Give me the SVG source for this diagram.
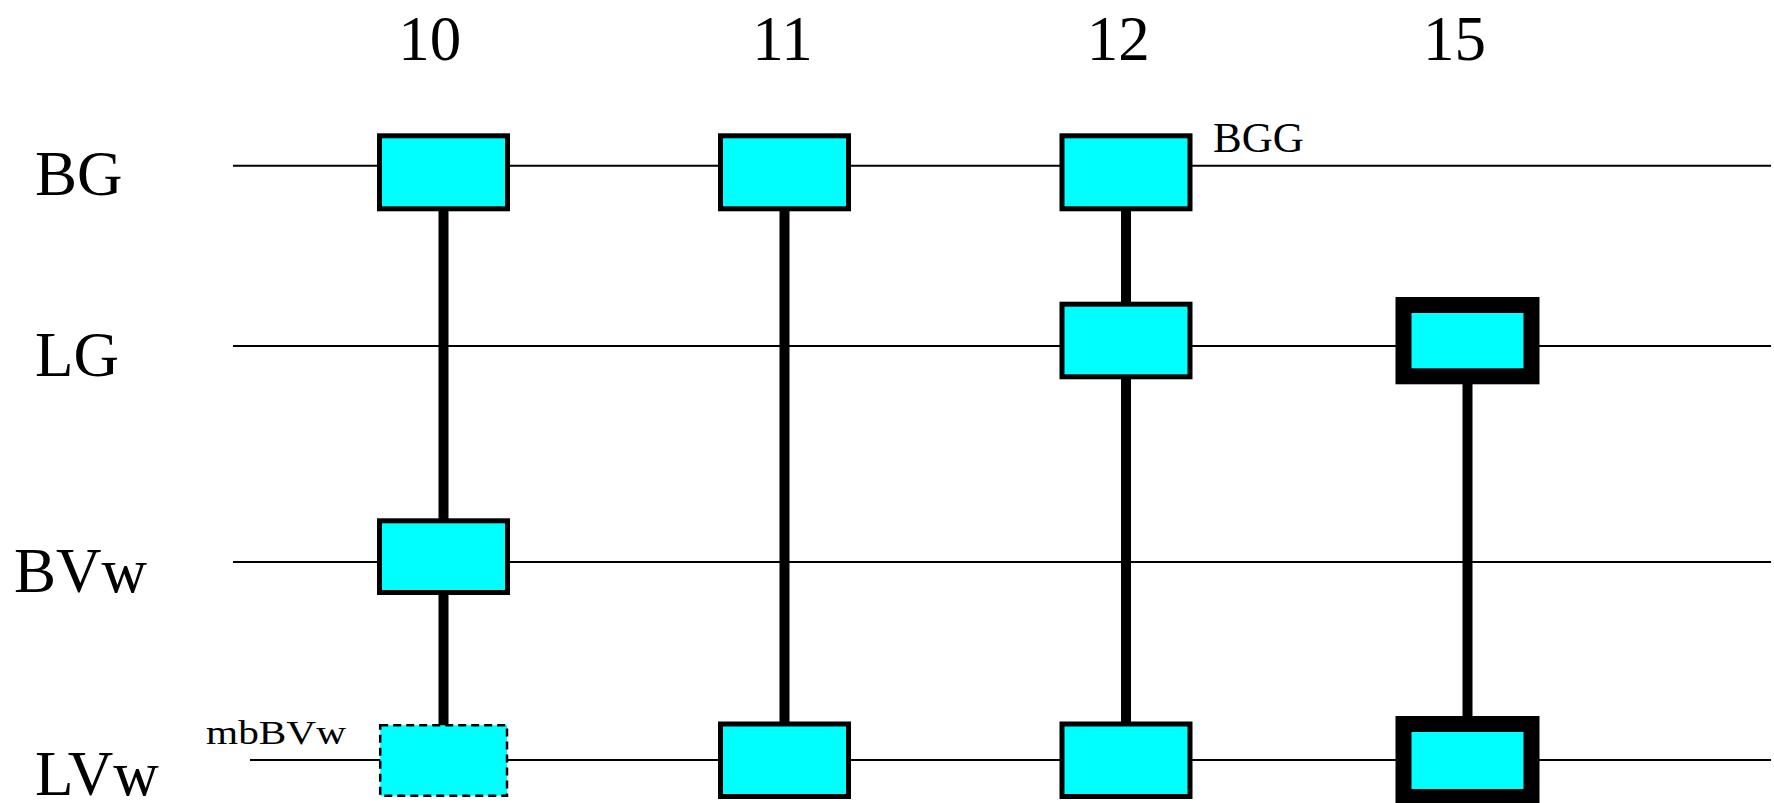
<svg xmlns="http://www.w3.org/2000/svg" width="1774" height="803" viewBox="0 0 1774 803">
<style>
text{font-family:"Liberation Serif","Times New Roman",serif;fill:#000}
.big{font-size:63px}
.small{font-size:43px}
.hl{stroke:#000;stroke-width:2;fill:none}
.vl{stroke:#000;stroke-width:10;fill:none}
.box{fill:#00FFFF;stroke:#000;stroke-width:5}
.thick{fill:#00FFFF;stroke:#000;stroke-width:16}
.dash{fill:#00FFFF;stroke:#000;stroke-width:2.5;stroke-dasharray:8,5}
</style>
<rect width="1774" height="803" fill="#fff"/>
<g id="labels">
<text class="big" x="429.7" y="60" text-anchor="middle">10</text>
<text class="big" x="782.5" y="60" text-anchor="middle">11</text>
<text class="big" x="1118.3" y="60" text-anchor="middle">12</text>
<text class="big" x="1454.4" y="60" text-anchor="middle">15</text>
<text class="big" x="35" y="195">BG</text>
<text class="big" x="35" y="375.7">LG</text>
<text class="big" x="14" y="591.7">BVw</text>
<text class="big" x="35" y="794.5">LVw</text>
</g>
<g id="connectors">
<line class="hl" x1="233" y1="165.7" x2="1771" y2="165.7"/>
<line class="hl" x1="233" y1="346" x2="1771" y2="346"/>
<line class="hl" x1="233" y1="562" x2="1771" y2="562"/>
<line class="hl" x1="250" y1="760" x2="1771" y2="760"/>
<line class="vl" x1="443.5" y1="200" x2="443.5" y2="726"/>
<line class="vl" x1="784.5" y1="200" x2="784.5" y2="730"/>
<line class="vl" x1="1126" y1="200" x2="1126" y2="730"/>
<line class="vl" x1="1467.5" y1="370" x2="1467.5" y2="730"/>
</g>
<g id="node-bg-10"><rect class="box" x="379.5" y="135.8" width="128" height="73"/></g>
<g id="node-bg-11"><rect class="box" x="720.5" y="135.8" width="128" height="73"/></g>
<g id="node-bg-12"><rect class="box" x="1062" y="135.8" width="128" height="73"/>
<text class="small" x="1213" y="151.7">BGG</text></g>
<g id="node-lg-12"><rect class="box" x="1062" y="304.2" width="128" height="72.6"/></g>
<g id="node-lg-15"><rect class="thick" x="1403.5" y="305" width="128" height="71.3"/></g>
<g id="node-bvw-10"><rect class="box" x="379.5" y="520.8" width="128" height="71.7"/></g>
<g id="node-lvw-10"><rect class="dash" x="380.2" y="725.2" width="126.8" height="70.5"/>
<text x="206" y="744" font-size="34" textLength="140" lengthAdjust="spacingAndGlyphs">mbBVw</text></g>
<g id="node-lvw-11"><rect class="box" x="720.5" y="724" width="128" height="72.5"/></g>
<g id="node-lvw-12"><rect class="box" x="1062" y="724" width="128" height="72.5"/></g>
<g id="node-lvw-15"><rect class="thick" x="1403.5" y="724" width="128" height="73"/></g>
</svg>
